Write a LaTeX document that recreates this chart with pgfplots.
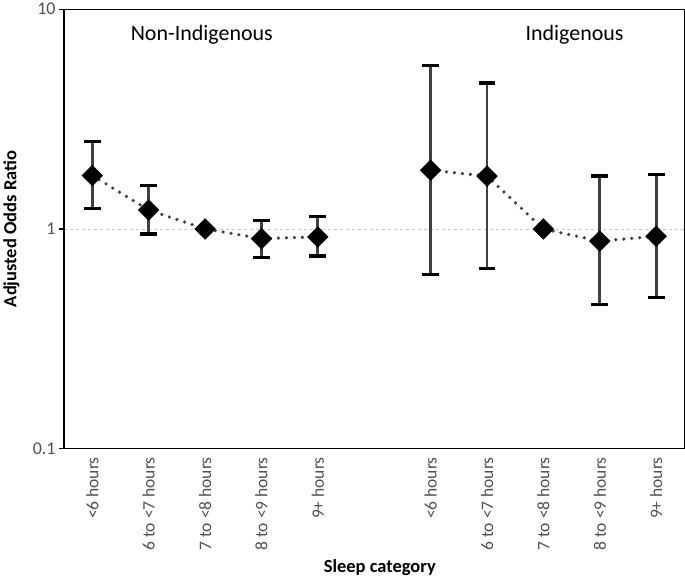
\documentclass[border=0pt]{standalone}
\usepackage{fontspec}
\setmainfont{Carlito}
\usepackage{pgfplots}
\usepackage{pgfplotstable}
\pgfplotsset{compat=1.18}
\definecolor{tickgrey}{HTML}{505050}
\definecolor{bargrey}{HTML}{404040}
\definecolor{gridgrey}{HTML}{C8C8C8}

\pgfplotstableread{
x y
0 1.75
1 1.22
2 1.00
3 0.904
4 0.92
}\nonind
\pgfplotstableread{
x y ep em
0 1.75 0.75 0.51
1 1.22 0.36 0.273
3 0.904 0.191 0.163
4 0.92 0.22 0.166
}\nonindErr
\pgfplotstableread{
x y
6 1.85
7 1.74
8 1.00
9 0.88
10 0.927
}\ind
\pgfplotstableread{
x y ep em
6 1.85 3.70 1.23
7 1.74 2.87 1.08
9 0.88 0.86 0.427
10 0.927 0.843 0.44
}\indErr

\begin{document}
\begin{tikzpicture}
\begin{axis}[
  scale only axis, width=621pt, height=440pt,
  ymode=log, ymin=0.1, ymax=10,
  xmin=-0.5, xmax=10.5,
  axis line style={black, line width=1.3pt},
  xtick={0,1,2,3,4,6,7,8,9,10},
  xticklabels={<6 hours,6 to <7 hours,7 to <8 hours,8 to <9 hours,9+ hours,<6 hours,6 to <7 hours,7 to <8 hours,8 to <9 hours,9+ hours},
  xticklabel style={rotate=90, anchor=east, font=\fontsize{17.5}{20}\selectfont, color=tickgrey},
  xtick style={draw=none},
  ytick={0.1,1,10}, yticklabels={0.1,1,10},
  yminorticks=false,
  ytick pos=left,
  yticklabel style={font=\fontsize{18}{20}\selectfont, color=tickgrey},
  ytick style={black, line width=1.3pt},
  tick align=outside, major tick length=5pt,
  ymajorgrids, grid style={gridgrey, dashed, line width=0.8pt},
  /pgf/number format/assume math mode=true,
  xlabel={\textbf{Sleep category}},
  xlabel style={font=\fontsize{18.5}{22}\selectfont, at={(axis description cs:0.509,-0.27)}, anchor=center},
  ylabel={\textbf{Adjusted Odds Ratio}},
  ylabel style={font=\fontsize{18.5}{22}\selectfont, at={(axis description cs:-0.085,0.5)}, anchor=center},
  clip=false,
]
% error bars
\addplot[draw=none, mark=none, forget plot,
  error bars/.cd, y dir=both, y explicit,
  error bar style={draw=bargrey, line width=2.8pt, solid},
  error mark options={draw=black, rotate=90, mark size=8.5pt, line width=3.5pt}]
  table[x=x, y=y, y error plus=ep, y error minus=em] {\nonindErr};
\addplot[draw=none, mark=none, forget plot,
  error bars/.cd, y dir=both, y explicit,
  error bar style={draw=bargrey, line width=2.8pt, solid},
  error mark options={draw=black, rotate=90, mark size=8.5pt, line width=3.5pt}]
  table[x=x, y=y, y error plus=ep, y error minus=em] {\indErr};
% lines and markers
\addplot[bargrey, line width=3.6pt, line cap=round, dash pattern=on 0pt off 8pt,
  mark=square*, mark size=5.8pt, mark options={solid, black, fill=black, rotate=45}]
  table[x=x, y=y] {\nonind};
\addplot[bargrey, line width=3.6pt, line cap=round, dash pattern=on 0pt off 8pt,
  mark=square*, mark size=5.8pt, mark options={solid, black, fill=black, rotate=45}]
  table[x=x, y=y] {\ind};
\node[font=\fontsize{22}{26}\selectfont, anchor=center] at (rel axis cs:0.222,0.943) {Non-Indigenous};
\node[font=\fontsize{22}{26}\selectfont, anchor=center] at (rel axis cs:0.823,0.943) {Indigenous};
\end{axis}
\end{tikzpicture}
\end{document}
